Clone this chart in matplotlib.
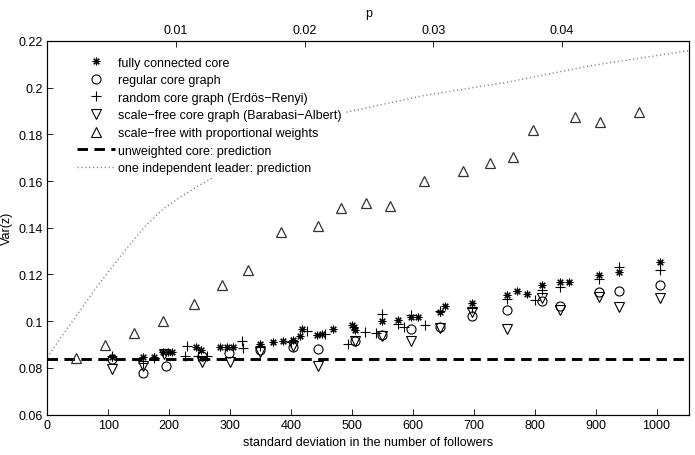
import numpy as np
import matplotlib
matplotlib.use('Agg')
import matplotlib.pyplot as plt
from matplotlib.lines import Line2D
from matplotlib.ticker import FormatStrFormatter

plt.rcParams['font.family'] = ['Liberation Sans', 'DejaVu Sans']
plt.rcParams['font.size'] = 9

# fully connected core
full_x = [106, 157, 175, 190, 198, 205, 244, 253, 284, 295, 305, 349, 371, 387, 404, 415, 418,
          442, 451, 469, 500, 503, 505, 549, 576, 597, 608, 645, 653, 697, 754, 771, 787, 812,
          841, 856, 905, 938, 1006]
full_y = [0.0847, 0.0845, 0.0845, 0.0866, 0.0866, 0.0866, 0.0891, 0.0877, 0.0891, 0.0890, 0.0890,
          0.0903, 0.0910, 0.0917, 0.0918, 0.0937, 0.0965, 0.0943, 0.0944, 0.0967, 0.0985, 0.0975,
          0.0962, 0.1002, 0.1006, 0.1019, 0.1017, 0.1038, 0.1064, 0.1076, 0.1114, 0.1131, 0.1116,
          0.1155, 0.1167, 0.1167, 0.1197, 0.1209, 0.1255]

# regular core graph
reg_x = [106, 157, 195, 254, 298, 349, 404, 444, 505, 549, 597, 645, 697, 754, 812, 841, 905, 938, 1006]
reg_y = [0.0836, 0.0777, 0.0809, 0.0850, 0.0864, 0.0877, 0.0888, 0.0881, 0.0917, 0.0940, 0.0967,
         0.0974, 0.1021, 0.1049, 0.1088, 0.1066, 0.1124, 0.1131, 0.1156]

# random core graph (Erdos-Renyi)
rnd_x = [106, 157, 175, 229, 226, 248, 262, 319, 322, 349, 400, 426, 456, 494, 522, 540, 549, 576,
         585, 597, 620, 645, 697, 754, 801, 812, 841, 905, 938, 1006]
rnd_y = [0.0853, 0.0822, 0.0842, 0.0893, 0.0852, 0.0852, 0.0850, 0.0917, 0.0884, 0.0895, 0.0912,
         0.0958, 0.0945, 0.0902, 0.0955, 0.0949, 0.1030, 0.0990, 0.0974, 0.1028, 0.0984, 0.1045,
         0.1058, 0.1094, 0.1091, 0.1133, 0.1146, 0.1181, 0.1231, 0.1221]

# scale-free core graph (Barabasi-Albert)
ba_x = [106, 157, 192, 254, 300, 349, 404, 444, 505, 549, 597, 645, 697, 754, 812, 841, 905, 938, 1006]
ba_y = [0.0795, 0.0806, 0.0860, 0.0824, 0.0824, 0.0868, 0.0893, 0.0810, 0.0915, 0.0936, 0.0917,
        0.0972, 0.1038, 0.0967, 0.1100, 0.1049, 0.1104, 0.1060, 0.1099]

# scale-free with proportional weights
prop_x = [47, 94, 142, 190, 241, 287, 330, 384, 444, 482, 523, 563, 619, 683, 727, 765, 797, 866, 907, 971]
prop_y = [0.0841, 0.0899, 0.0948, 0.0999, 0.1075, 0.1156, 0.1220, 0.1381, 0.1406, 0.1484, 0.1506,
          0.1492, 0.1602, 0.1645, 0.1678, 0.1702, 0.1820, 0.1873, 0.1852, 0.1897]

# predictions
unweighted = 0.0838
leader_x = [0, 25, 51, 78, 106, 133, 160, 190, 215, 245, 270, 330, 400, 491, 617, 754, 891, 1054]
leader_y = [0.0845, 0.094, 0.1035, 0.1135, 0.1231, 0.132, 0.1405, 0.148, 0.1525, 0.1575, 0.1612,
            0.1705, 0.1805, 0.1895, 0.1966, 0.2023, 0.2094, 0.2159]

xmax = 1054
pmax = 0.0499

fig = plt.figure(figsize=(6.95, 4.56), dpi=100)
ax = fig.add_axes([0.068, 0.0886, 0.924, 0.8193])

dot_style = dict(color='#7a7a7a', lw=1.0, dashes=(0.8, 2.0))
ax.plot(leader_x, leader_y, zorder=1, **dot_style)
ax.axhline(unweighted, color='black', lw=2.1, dashes=(3.6, 2.2), zorder=2)

mk = dict(ls='none', mfc='none', mec='black', mew=0.8)
ax.plot(full_x, full_y, marker=(8, 2, 0), ms=5.5, color='black', **mk)
ax.plot(reg_x, reg_y, marker='o', ms=6.5, **mk)
ax.plot(rnd_x, rnd_y, marker='+', ms=7.5, **mk)
ax.plot(ba_x, ba_y, marker='v', ms=7, **mk)
ax.plot(prop_x, prop_y, marker='^', ms=7, ls='none', mfc='none', mec='#333333', mew=0.9)

ax.set_xlim(0, xmax)
ax.set_ylim(0.06, 0.22)
ax.set_xticks(np.arange(0, 1001, 100))
ax.set_yticks(np.arange(0.06, 0.2201, 0.02))
ax.yaxis.set_major_formatter(FormatStrFormatter('%g'))
ax.tick_params(direction='in', length=4, width=0.6, top=False, right=False)
for s in ax.spines.values():
    s.set_linewidth(0.8)
ax.set_xlabel('standard deviation in the number of followers', labelpad=3)
ax.set_ylabel('Var(z)', labelpad=4)

ax2 = ax.twiny()
ax2.set_xlim(0, pmax)
ax2.set_xticks([0.01, 0.02, 0.03, 0.04])
ax2.xaxis.set_major_formatter(FormatStrFormatter('%g'))
ax2.tick_params(direction='in', length=4, width=0.6)
ax2.set_xlabel('p', labelpad=6)

handles = [
    Line2D([], [], marker=(8, 2, 0), ms=5.5, **mk),
    Line2D([], [], marker='o', ms=6.5, **mk),
    Line2D([], [], marker='+', ms=7.5, **mk),
    Line2D([], [], marker='v', ms=7, **mk),
    Line2D([], [], marker='^', ms=7, **mk),
    Line2D([], [], color='black', lw=2.1, dashes=(3.6, 2.2)),
    Line2D([], [], **dot_style),
]
labels = ['fully connected core', 'regular core graph', 'random core graph (Erdös\u2212Renyi)',
          'scale\u2212free core graph (Barabasi\u2212Albert)', 'scale\u2212free with proportional weights',
          'unweighted core: prediction', 'one independent leader: prediction']
leg = ax.legend(handles, labels, loc='upper left', bbox_to_anchor=(0.031, 0.985),
                frameon=True, facecolor='white', edgecolor='none', framealpha=1,
                fancybox=False, borderpad=0.3, labelspacing=0.45, handlelength=3.0,
                handletextpad=0.3, fontsize=9)
leg.set_zorder(5)

fig.savefig('out.png', dpi=100)
